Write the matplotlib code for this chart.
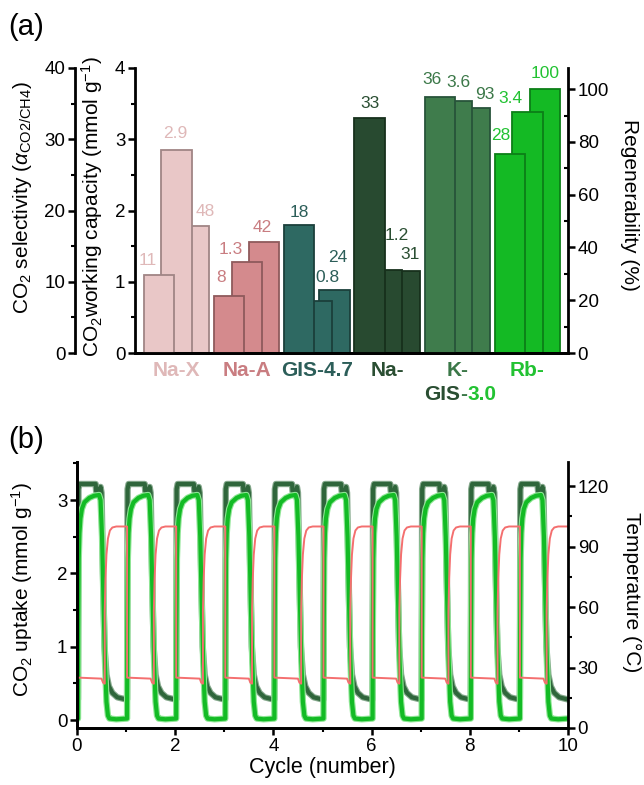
import numpy as np
import matplotlib
matplotlib.use("Agg")
import matplotlib.pyplot as plt
from matplotlib.ticker import MultipleLocator
from matplotlib.transforms import blended_transform_factory

plt.rcParams['font.family'] = ['Liberation Sans', 'DejaVu Sans']
plt.rcParams['mathtext.fontset'] = 'custom'
plt.rcParams['mathtext.rm'] = 'Liberation Sans'
plt.rcParams['mathtext.it'] = 'Liberation Sans:italic'
plt.rcParams['mathtext.bf'] = 'Liberation Sans:bold'

# ---------------- (a) bar data ----------------
groups = ["Na-X", "Na-A", "GIS-4.7", "Na-", "K-", "Rb-"]
selectivity = [11, 8, 18, 33, 36, 28]                 # alpha CO2/CH4
capacity = [2.85, 1.28, 0.73, 1.17, 3.54, 3.38]       # mmol/g (bar heights)
capacity_text = ["2.9", "1.3", "0.8", "1.2", "3.6", "3.4"]
regenerability = [48, 42, 24, 31, 93, 100]            # %

# ---------------- (b) one cycle ----------------
cycle_start = [0, 1, 2, 3, 4, 5, 6, 7, 8, 9]
# Rb-GIS-3.0 uptake (bright green)
rb_u = [0.0, 0.02, 0.025, 0.035, 0.05, 0.07, 0.10, 0.15, 0.25, 0.35, 0.45,
        0.48, 0.51, 0.54, 0.57, 0.60, 0.63, 0.66, 0.80, 1.0]
rb_v = [0.02, 0.02, 1.2, 2.2, 2.55, 2.75, 2.88, 2.97, 3.03, 3.06, 3.07,
        3.0, 2.5, 1.6, 0.8, 0.25, 0.06, 0.02, 0.01, 0.02]
# K-GIS-3.0 uptake (dark green)
k_u = [0.0, 0.02, 0.025, 0.03, 0.05, 0.38, 0.39, 0.46, 0.48, 0.50, 0.53,
       0.56, 0.60, 0.65, 0.72, 0.82, 1.0]
k_v = [0.28, 0.28, 1.6, 3.15, 3.22, 3.22, 3.12, 3.12, 3.18, 3.1, 2.0,
       1.0, 0.62, 0.46, 0.37, 0.31, 0.28]
# temperature (red)
t_u = [0.0, 0.02, 0.02, 0.50, 0.53, 0.565, 0.565, 0.58, 0.60, 0.63, 0.67,
       0.72, 0.80, 1.0]
t_v = [100, 100, 25, 24.5, 22.5, 22, 58, 74, 86, 94, 98, 99.5, 100, 100]

face = ["#e9c7c7", "#d48a8d", "#2e6962", "#284a30", "#3f7c4c", "#14ba24"]
edge = ["#a08585", "#8f5a5c", "#1b403b", "#17301c", "#27543a", "#0c7f17"]
txtc = ["#dfb8b8", "#c97d81", "#2c5e59", "#2a4e32", "#3b7848", "#22c232"]

fig = plt.figure(figsize=(6.44, 7.85), dpi=100)

# ================= panel (a) =================
rect_a = [135 / 644, 1 - 353 / 785, 433 / 644, 285 / 785]
ax = fig.add_axes(rect_a)          # working capacity
ax_reg = ax.twinx()                # regenerability (back bars)
ax_sel = ax.twinx()                # selectivity (front bars)
ax_reg.set_zorder(1)
ax.set_zorder(2)
ax_sel.set_zorder(3)
ax.patch.set_visible(False)
ax_sel.patch.set_visible(False)

x = np.arange(len(groups))
w, off = 0.43, 0.25
ax_reg.bar(x + off, regenerability, w, color=face, edgecolor=edge, linewidth=1.3)
ax.bar(x, capacity, w, color=face, edgecolor=edge, linewidth=1.3)
ax_sel.bar(x - off, selectivity, w, color=face, edgecolor=edge, linewidth=1.3)

ax.set_xlim(-0.591, 5.577)
ax.set_ylim(0, 4)
ax_sel.set_ylim(0, 40)
ax_reg.set_ylim(0, 108)

# label offsets in pixels (dx, dy) for sel / cap / regen
sel_off = [(-11, 14), (-8, 18), (0, 12), (0, 14), (-8, 17), (-9, 18)]
cap_off = [(-1, 16), (-16, 12), (11, 23), (10, 34), (1, 18), (-17, 14)]
reg_off = [(11, 15), (-2, 15), (3, 32), (5, 17), (10, 13), (0, 16)]
for i in range(len(groups)):
    for axis, xpos, val, txt, (dx, dy) in [
            (ax_sel, x[i] - off, selectivity[i], str(selectivity[i]), sel_off[i]),
            (ax, x[i], capacity[i], capacity_text[i], cap_off[i]),
            (ax_reg, x[i] + off, regenerability[i], str(regenerability[i]), reg_off[i])]:
        ax_sel.annotate(txt, xy=(xpos, val), xycoords=axis.transData,
                        xytext=(dx, dy), textcoords='offset pixels',
                        ha='center', va='center', fontsize=12.5, color=txtc[i])

# spines
for s in ["top", "right"]:
    ax.spines[s].set_visible(False)
for s in ["top", "left"]:
    ax_reg.spines[s].set_visible(False)
ax_reg.spines["bottom"].set_visible(False)
for s in ["top", "right"]:
    ax_sel.spines[s].set_visible(False)
ax_sel.spines["left"].set_visible(True)
ax_sel.spines["left"].set_position(("axes", -60 / 433))
ax_sel.yaxis.set_ticks_position("left")
ax_sel.yaxis.set_label_position("left")
for a in (ax, ax_sel, ax_reg):
    for sp in a.spines.values():
        sp.set_linewidth(2.0)
    a.tick_params(axis="y", which="major", direction="out", length=5, width=1.8,
                  labelsize=13.5, pad=2)
    a.tick_params(axis="y", which="minor", direction="out", length=3, width=1.5)
    a.tick_params(axis="x", bottom=False, labelbottom=False, top=False)
ax_reg.tick_params(axis="y", which="minor", direction="in", length=3)

ax.yaxis.set_major_locator(MultipleLocator(1))
ax.yaxis.set_minor_locator(MultipleLocator(0.5))
ax_sel.yaxis.set_major_locator(MultipleLocator(10))
ax_sel.yaxis.set_minor_locator(MultipleLocator(5))
ax_reg.yaxis.set_major_locator(MultipleLocator(20))
ax_reg.yaxis.set_minor_locator(MultipleLocator(10))
ax_reg.set_yticks([0, 20, 40, 60, 80, 100])

ax.set_ylabel(r"CO$_2$working capacity (mmol g$^{-1}$)", fontsize=15)
ax.yaxis.set_label_coords(-0.099, 0.515)
ax.yaxis.label.set_va("center")
ax_sel.set_ylabel(r"CO$_2$ selectivity ($\mathit{\alpha}_{\mathrm{CO2/CH4}}$)", fontsize=15)
ax_sel.yaxis.set_label_coords(-0.259, 0.545)
ax_sel.yaxis.label.set_va("center")
ax_reg.set_ylabel("Regenerability (%)", fontsize=15, rotation=270)
ax_reg.yaxis.set_label_coords(1.143, 0.52)
ax_reg.yaxis.label.set_va("center")

# group names under the bars
trans = blended_transform_factory(ax.transData, ax.transAxes)
for i, g in enumerate(groups):
    ax_sel.text(x[i], -0.06, g, transform=trans, ha="center", va="center",
                fontsize=15, fontweight="bold", color=txtc[i])
t1 = ax_sel.text(4.04, -0.147, "GIS", transform=trans, ha="right", va="center",
                 fontsize=15, fontweight="bold", color=txtc[3])
t2 = ax_sel.annotate("-", xy=(1, 0), xycoords=t1, ha="left", va="bottom",
                     fontsize=15, fontweight="bold", color=txtc[4])
ax_sel.annotate("3.0", xy=(1, 0), xycoords=t2, ha="left", va="bottom",
                fontsize=15, fontweight="bold", color=txtc[5])

# ================= panel (b) =================
rect_b = [77 / 644, 1 - 728 / 785, 491 / 644, 266 / 785]
axb = fig.add_axes(rect_b)
axt = axb.twinx()
axb.set_zorder(1)
axt.set_zorder(2)
axt.patch.set_visible(False)


def tile(u, v, first_from=0):
    xs, ys = [], []
    for k in cycle_start:
        i0 = first_from if k == cycle_start[0] else 0
        xs.append(k + np.asarray(u[i0:]))
        ys.append(np.asarray(v[i0:]))
    return np.concatenate(xs), np.concatenate(ys)


kx, ky = tile(k_u, k_v)
rx, ry = tile(rb_u, rb_v)
tx, ty = tile(t_u, t_v, first_from=2)

axb.plot(kx, ky, color="#86a98d", lw=4.6, solid_capstyle="round")
axb.plot(kx, ky, color="#2f663b", lw=3.0, solid_capstyle="round")
axb.plot(rx, ry, color="#8fe695", lw=4.6, solid_capstyle="round")
axb.plot(rx, ry, color="#13bb25", lw=3.0, solid_capstyle="round")
axt.plot(tx, ty, color="#f46f6f", lw=1.4)

axb.set_xlim(0, 10)
axb.set_ylim(-0.109, 3.52)
axt.set_ylim(0, 132)
axb.xaxis.set_major_locator(MultipleLocator(2))
axb.xaxis.set_minor_locator(MultipleLocator(1))
axb.yaxis.set_major_locator(MultipleLocator(1))
axb.yaxis.set_minor_locator(MultipleLocator(0.5))
axt.yaxis.set_major_locator(MultipleLocator(30))
axt.yaxis.set_minor_locator(MultipleLocator(15))
axt.set_yticks([0, 30, 60, 90, 120])

for a in (axb, axt):
    a.spines["top"].set_visible(False)
    for sp in a.spines.values():
        sp.set_linewidth(2.0)
    a.tick_params(which="major", direction="out", length=5, width=1.8,
                  labelsize=13.5, pad=2)
    a.tick_params(which="minor", direction="out", length=3, width=1.5)
axb.spines["right"].set_visible(False)

axb.set_xlabel("Cycle (number)", fontsize=15.5)
axb.xaxis.set_label_coords(0.5, -0.147)
axb.xaxis.label.set_va("center")
axb.set_ylabel(r"CO$_2$ uptake (mmol g$^{-1}$)", fontsize=15)
axb.yaxis.set_label_coords(-0.112, 0.519)
axb.yaxis.label.set_va("center")
axt.set_ylabel("Temperature (\u00b0C)", fontsize=15, rotation=270)
axt.yaxis.set_label_coords(1.13, 0.511)
axt.yaxis.label.set_va("center")

fig.text(8 / 644, 1 - 27 / 785, "(a)", fontsize=21, ha="left", va="center")
fig.text(8 / 644, 1 - 440 / 785, "(b)", fontsize=21, ha="left", va="center")

fig.savefig("out.png", dpi=100, facecolor="white")
